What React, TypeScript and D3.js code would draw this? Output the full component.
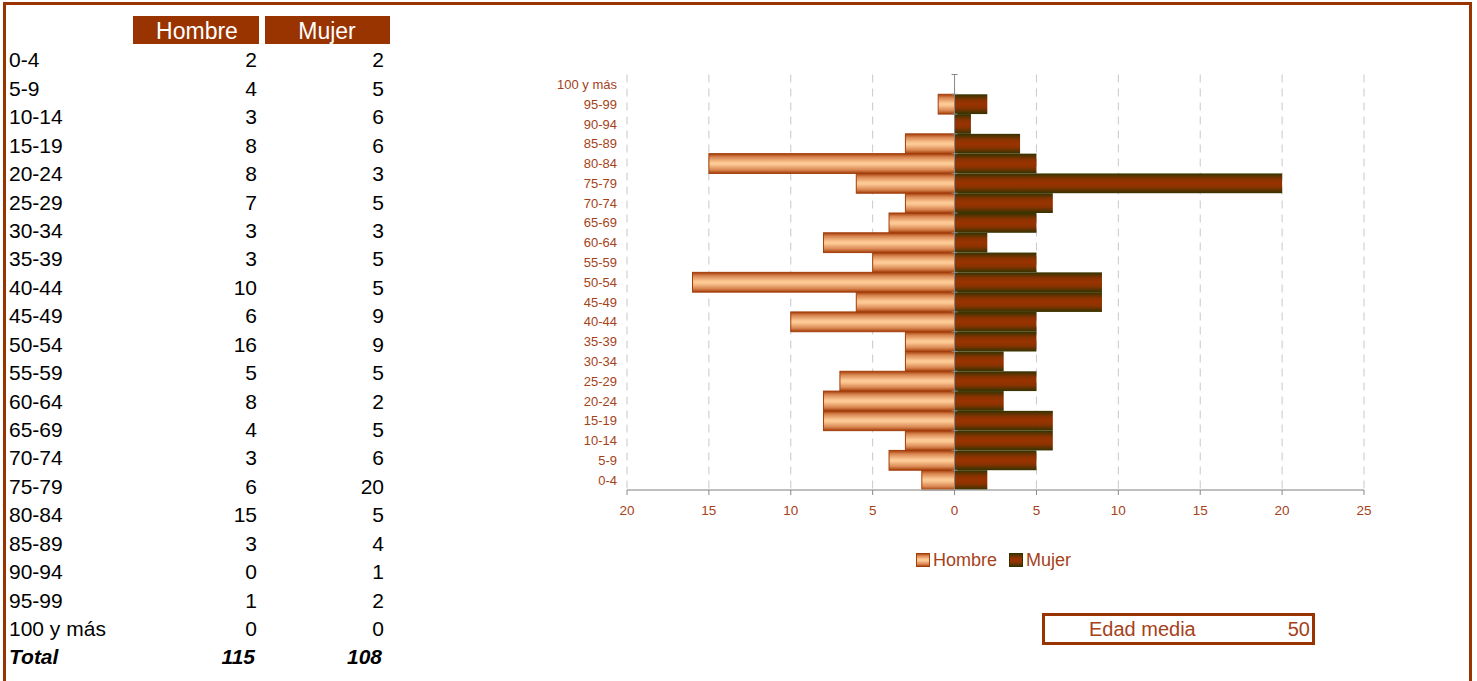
import React from "react";
import * as d3 from "d3";

const categories = ["0-4","5-9","10-14","15-19","20-24","25-29","30-34","35-39","40-44","45-49","50-54","55-59","60-64","65-69","70-74","75-79","80-84","85-89","90-94","95-99","100 y más"];
const hombre = [2,4,3,8,8,7,3,3,10,6,16,5,8,4,3,6,15,3,0,1,0];
const mujer = [2,5,6,6,3,5,3,5,5,9,9,5,2,5,6,20,5,4,1,2,0];
const xTicks = [-20,-15,-10,-5,0,5,10,15,20,25];
const totalHombre = 115;
const totalMujer = 108;
const edadMedia = 50;

const BROWN = "#993300";
const LABEL = "#a5421a";
const FONT = "Arial, 'Liberation Sans', sans-serif";

export default function App() {
  const x = d3.scaleLinear().domain([-20, 25]).range([627, 1364]);
  const y = d3.scaleBand().domain([...categories].reverse()).range([74.5, 490]).paddingInner(0);
  const bw = y.bandwidth();
  const top = 74.5, bottom = 490;

  const rowY = (i: number) => 60 + i * 28.43;
  const TF = 21;

  return (
    <svg width={1477} height={681} style={{ position: "absolute", left: 0, top: 0, background: "#fff" }} fontFamily={FONT}>
      <defs>
        <linearGradient id="gH" x1="0" y1="0" x2="0" y2="1">
          <stop offset="0%" stopColor="#a33d0a" />
          <stop offset="18%" stopColor="#d98752" />
          <stop offset="45%" stopColor="#fcc894" />
          <stop offset="55%" stopColor="#fcc894" />
          <stop offset="82%" stopColor="#d98752" />
          <stop offset="100%" stopColor="#a33d0a" />
        </linearGradient>
        <linearGradient id="gM" x1="0" y1="0" x2="0" y2="1">
          <stop offset="0%" stopColor="#333300" />
          <stop offset="30%" stopColor="#8a3300" />
          <stop offset="50%" stopColor="#993300" />
          <stop offset="70%" stopColor="#8a3300" />
          <stop offset="100%" stopColor="#333300" />
        </linearGradient>
      </defs>
      {/* outer frame */}
      <rect x={4.5} y={3.5} width={1466} height={720} fill="none" stroke={BROWN} strokeWidth={3} />

      {/* table */}
      <rect x={133} y={16} width={126} height={28} fill={BROWN} />
      <rect x={265} y={16} width={125} height={28} fill={BROWN} />
      <text x={197} y={31} dy="0.35em" textAnchor="middle" fill="#fff" fontSize={23}>Hombre</text>
      <text x={327} y={31} dy="0.35em" textAnchor="middle" fill="#fff" fontSize={23}>Mujer</text>
      {categories.map((c, i) => (
        <g key={c}>
          <text x={9} y={rowY(i)} dy="0.35em" fontSize={TF} fill="#000">{c}</text>
          <text x={257} y={rowY(i)} dy="0.35em" fontSize={TF} fill="#000" textAnchor="end">{hombre[i]}</text>
          <text x={384} y={rowY(i)} dy="0.35em" fontSize={TF} fill="#000" textAnchor="end">{mujer[i]}</text>
        </g>
      ))}
      <text x={9} y={rowY(21)} dy="0.35em" fontSize={TF} fontWeight="bold" fontStyle="italic">Total</text>
      <text x={255} y={rowY(21)} dy="0.35em" fontSize={TF} fontWeight="bold" fontStyle="italic" textAnchor="end">{totalHombre}</text>
      <text x={382} y={rowY(21)} dy="0.35em" fontSize={TF} fontWeight="bold" fontStyle="italic" textAnchor="end">{totalMujer}</text>

      {/* gridlines */}
      {xTicks.filter(t => t !== 0).map(t => (
        <line key={t} x1={x(t)} x2={x(t)} y1={top} y2={bottom} stroke="#c8c8c8" strokeDasharray="8,6" />
      ))}

      {/* bars */}
      {categories.map((c, i) => (
        <g key={c}>
          {hombre[i] > 0 && (
            <rect x={x(-hombre[i])} y={y(c)!} width={x(0) - x(-hombre[i])} height={bw} fill="url(#gH)" stroke="#a33d0a" strokeWidth={1} />
          )}
          {mujer[i] > 0 && (
            <rect x={x(0)} y={y(c)!} width={x(mujer[i]) - x(0)} height={bw} fill="url(#gM)" />
          )}
        </g>
      ))}

      {/* axes */}
      <line x1={x(0)} x2={x(0)} y1={top} y2={bottom} stroke="#888" strokeWidth={1} />
      {categories.map(c => (
        <line key={c} x1={x(0) - 3} x2={x(0) + 3} y1={y(c)!} y2={y(c)!} stroke="#888" />
      ))}
      <line x1={x(-20)} x2={x(25)} y1={bottom} y2={bottom} stroke="#aaa" strokeWidth={1.5} />
      {xTicks.map(t => (
        <g key={t}>
          <line x1={x(t)} x2={x(t)} y1={bottom} y2={bottom + 5} stroke="#888" />
          <text x={x(t)} y={510} dy="0.35em" textAnchor="middle" fontSize={13.5} fill={LABEL}>{Math.abs(t)}</text>
        </g>
      ))}
      {categories.map(c => (
        <text key={c} x={617} y={y(c)! + bw / 2} dy="0.35em" textAnchor="end" fontSize={13} fill={LABEL}>{c}</text>
      ))}

      {/* legend */}
      <rect x={916.5} y={553.5} width={13} height={13} fill="url(#gH)" stroke="#a33d0a" />
      <text x={933} y={560} dy="0.35em" fontSize={18} fill={LABEL}>Hombre</text>
      <rect x={1009.5} y={553.5} width={13} height={13} fill="url(#gM)" stroke="#333300" />
      <text x={1026} y={560} dy="0.35em" fontSize={18} fill={LABEL}>Mujer</text>

      {/* edad media */}
      <rect x={1043.5} y={614.5} width={270} height={29} fill="none" stroke={BROWN} strokeWidth={3} />
      <text x={1089} y={629} dy="0.35em" fontSize={20} fill={LABEL}>Edad media</text>
      <text x={1310} y={629} dy="0.35em" fontSize={20} fill={LABEL} textAnchor="end">{edadMedia}</text>
    </svg>
  );
}
